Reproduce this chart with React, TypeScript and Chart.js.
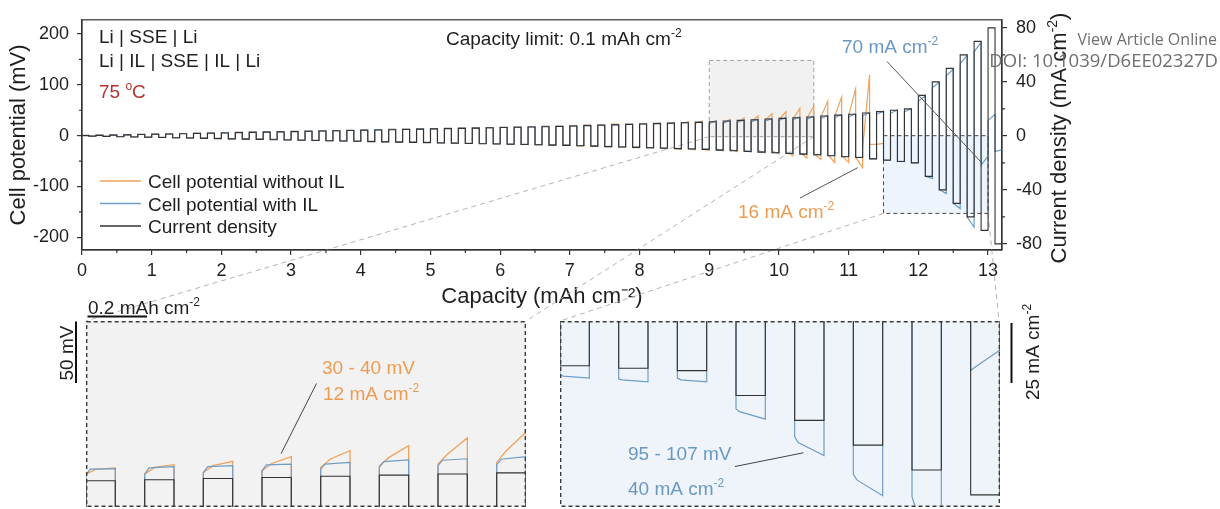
import React, { useEffect, useRef } from 'react';
import { Chart, registerables } from 'chart.js';

Chart.register(...registerables);

// ---------------- data ----------------
const halfCapacity = 0.1; // capacity limit per half cycle, mAh cm-2

const capacityTicks = [0, 1, 2, 3, 4, 5, 6, 7, 8, 9, 10, 11, 12, 13];
const capacityMinorTicks = [0.5, 1.5, 2.5, 3.5, 4.5, 5.5, 6.5, 7.5, 8.5, 9.5, 10.5, 11.5, 12.5];
const potentialTicks = [-200, -100, 0, 100, 200];
const potentialMinorTicks = [-150, -50, 50, 150];
const currentTicks = [-80, -40, 0, 40, 80];
const currentMinorTicks = [-60, -20, 20, 60];

const seriesLabels = ['Cell potential without IL', 'Cell potential with IL', 'Current density'];

// current density per cycle (mA cm-2)
const cycleCurrent = [
  0.2, 0.4, 0.6, 0.8, 1.0, 1.2, 1.4, 1.6, 1.8, 2.0,
  2.2, 2.4, 2.6, 2.8, 3.0, 3.2, 3.4, 3.6, 3.8, 4.0,
  4.2, 4.4, 4.6, 4.8, 5.0, 5.2, 5.4, 5.6, 5.8, 6.0,
  6.2, 6.4, 6.6, 6.8, 7.0, 7.3, 7.6, 7.9, 8.2, 8.5,
  8.8, 9.1, 9.4, 9.7, 10.0, 10.5, 11.0, 11.5, 12.0, 12.5,
  13.0, 13.5, 14.0, 14.7, 15.4, 16.0, 17.0, 18.0, 19.0, 20.0,
  30, 40, 50, 60, 70, 80,
];

// cell potential with IL (mV): value at end of plating / stripping half cycle
const blueUp = [
  0.5, 1.1, 1.6, 2.1, 2.7, 3.2, 3.7, 4.3, 4.8, 5.3,
  5.8, 6.4, 6.9, 7.4, 8.0, 8.5, 9.0, 9.6, 10.1, 10.6,
  11.2, 11.7, 12.2, 12.8, 13.3, 13.8, 14.3, 14.9, 15.4, 15.9,
  16.5, 17.0, 17.5, 18.1, 18.6, 19.4, 20.2, 21.0, 21.8, 22.6,
  23.4, 24.2, 25.0, 25.8, 26.6, 29.0, 30.5, 31.3, 32.6, 34.0,
  36.0, 36.9, 38.6, 40.0, 41.5, 43.0, 45.5, 48.0, 50.5, 53.0,
  78, 105, 131, 158, 184, 42,
];
const blueDown = [
  -0.5, -1.1, -1.6, -2.1, -2.7, -3.2, -3.7, -4.3, -4.8, -5.3,
  -5.8, -6.4, -6.9, -7.4, -8.0, -8.5, -9.0, -9.6, -10.1, -10.6,
  -11.2, -11.7, -12.2, -12.8, -13.3, -13.8, -14.3, -14.9, -15.4, -15.9,
  -16.5, -17.0, -17.5, -18.1, -18.6, -19.4, -20.2, -21.0, -21.8, -22.6,
  -23.4, -24.2, -25.0, -25.8, -26.6, -27.9, -29.2, -30.6, -31.9, -33.2,
  -34.5, -35.9, -37.2, -39.0, -41.0, -42.5, -45.2, -47.8, -50.5, -53.1,
  -84, -114, -144, -180, -40, -28,
];
// onset values (start of half cycle) where they differ from the end value
const blueUpOnsetFrom = 45;
const blueUpOnset = [24.0, 24.5, 25.8, 27.2, 28.5, 29.9, 31.3, 32.0, 34, 35.5, 37, 39, 42, 44, 47, 68, 94, 118, 142, 165, 30];
const blueDownOnsetFrom = 60;
const blueDownOnset = [-80, -106, -133, -160, -58, -31];

// cell potential without IL (mV)
const orangeUp = [
  0.5, 1.1, 1.6, 2.1, 2.7, 3.2, 3.7, 4.3, 4.8, 5.3,
  5.8, 6.4, 6.9, 7.4, 8.0, 8.5, 9.0, 9.6, 10.1, 10.6,
  11.2, 11.7, 12.2, 12.8, 13.3, 13.8, 14.3, 14.9, 15.4, 15.9,
  16.5, 17.0, 17.5, 18.1, 18.6, 19.8, 20.8, 21.8, 22.6, 23.4,
  24.0, 25.2, 26.3, 27.5, 28.7, 29.4, 32.1, 34.8, 38.6, 43.4,
  47.5, 53.7, 58.3, 68, 76, 92, 120, -15,
];
const orangeDown = [
  -0.5, -1.1, -1.6, -2.1, -2.7, -3.2, -3.7, -4.3, -4.8, -5.3,
  -5.8, -6.4, -6.9, -7.4, -8.0, -8.5, -9.0, -9.6, -10.1, -10.6,
  -11.2, -11.7, -12.2, -12.8, -13.3, -13.8, -14.3, -14.9, -15.4, -15.9,
  -16.5, -17.0, -17.5, -18.1, -18.6, -20.0, -21.0, -21.8, -22.8, -23.6,
  -24.5, -25.5, -26.8, -28.0, -29.0, -30.0, -31.5, -32.5, -34.0, -36.0,
  -40.0, -44.0, -47.0, -53, -53, -63, -17,
];
const orangeUpOnsetFrom = 40;
const orangeUpOnset = [22.5, 23.2, 23.8, 24.4, 24.8, 24.5, 24.5, 25.8, 27.2, 29.9, 31.3, 32.6, 34.0, 36, 38, 40, -25, -17];
const orangeDownOnsetFrom = 40;
const orangeDownOnset = [-23.5, -24.2, -25, -25.8, -26.6, -26, -27, -28, -29, -30, -31, -33, -35, -37, -39, -42, -17];

// zoom windows marked in the main plot
const zoomBox1 = { capacity: [9.0, 10.5], potential: [-2, 148] };
const zoomBox2 = { capacity: [11.5, 13.0], potential: [-153, 0] };

// inset 1: plating half cycles 45..52 (mV)
const inset1Cycles = [45, 46, 47, 48, 49, 50, 51, 52];
const inset1OrangeOnset = [24.5, 24.5, 25.8, 27.2, 29.9, 31.3, 32.6, 34.0];
const inset1OrangeKnee = [28.3, 29.9, 31.3, 33.1, 36.7, 38.0, 40.7, 43.4];
const inset1OrangeEnd = [29.4, 32.1, 34.8, 38.6, 43.4, 47.5, 53.7, 58.3];
const inset1BlueOnset = [24.0, 24.5, 25.8, 27.2, 28.5, 29.9, 31.3, 32.0];
const inset1BlueKnee = [28.5, 29.5, 30.5, 32.0, 32.6, 34.6, 35.7, 36.5];
const inset1BlueEnd = [29.0, 30.5, 31.3, 32.6, 34.0, 36.0, 36.9, 38.6];
const inset1CurrentRange = [-1.1, 81.3];

// inset 2: stripping half cycles 57..64 (mV)
const inset2Cycles = [57, 58, 59, 60, 61, 62, 63, 64];
const inset2BlueOnset = [-58, -62, -61, -94, -124, -164, -188, -53];
const inset2BlueKnee = [-59, -63, -63, -97, -130, -170, -200, -50];
const inset2BlueEnd = [-61, -65, -65, -105, -144, -187, -230, -31];
const inset2PotentialRange = [-199, 0];
const inset2CurrentRange = [-74.9, 0];

// ---------------- style / layout ----------------
const FONT = '"Liberation Sans", Arial, Helvetica, sans-serif';
const WM_FONT = '"Open Sans", "Liberation Sans", sans-serif';
const INK = '#1f1f1f';
const ORANGE = '#f2a25b';
const BLUE = '#6f9dc9';
const BLACK = '#333333';
const RED = '#b5332e';
const ORANGE_TXT = '#ee9c52';
const BLUE_TXT = '#6a98c4';

const insetFrames = [
  { left: 86, top: 321, width: 440, height: 186 },
  { left: 560, top: 321, width: 440, height: 186 },
];

// ---------------- helpers ----------------
type Seg = [string, boolean?];
function drawRich(ctx: any, segs: Seg[], x: number, y: number, size: number, color: string, align = 'left') {
  const supSize = Math.round(size * 0.62);
  const widths = segs.map(([t, sup]) => {
    ctx.font = `${sup ? supSize : size}px ${FONT}`;
    return ctx.measureText(t).width;
  });
  const total = widths.reduce((a, b) => a + b, 0);
  let cx = align === 'left' ? x : align === 'center' ? x - total / 2 : x - total;
  ctx.fillStyle = color;
  ctx.textAlign = 'left';
  ctx.textBaseline = 'alphabetic';
  segs.forEach(([t, sup], i) => {
    ctx.font = `${sup ? supSize : size}px ${FONT}`;
    ctx.fillText(t, cx, sup ? y - size * 0.42 : y);
    cx += widths[i];
  });
}
function drawRotated(ctx: any, segs: Seg[], cx: number, cy: number, size: number, color: string) {
  ctx.save();
  ctx.translate(cx, cy);
  ctx.rotate(-Math.PI / 2);
  drawRich(ctx, segs, 0, size * 0.358, size, color, 'center');
  ctx.restore();
}
function line(ctx: any, x1: number, y1: number, x2: number, y2: number) {
  ctx.beginPath();
  ctx.moveTo(x1, y1);
  ctx.lineTo(x2, y2);
  ctx.stroke();
}
const onsetOf = (arr: number[], from: number, k: number, fallback: number) =>
  k >= from && k - from < arr.length ? arr[k - from] : fallback;

function potentialTrace(up: number[], upOn: number[], upFrom: number, down: number[], downOn: number[], downFrom: number) {
  const pts: any[] = [{ x: 0, y: 0 }];
  for (let k = 0; k < up.length; k++) {
    const x0 = 2 * k * halfCapacity;
    const x1 = x0 + halfCapacity;
    const x2 = x1 + halfCapacity;
    pts.push({ x: x0, y: onsetOf(upOn, upFrom, k, up[k]) });
    pts.push({ x: x1, y: up[k] });
    if (k < down.length) {
      pts.push({ x: x1, y: onsetOf(downOn, downFrom, k, down[k]) });
      pts.push({ x: x2, y: down[k] });
    }
  }
  return pts;
}
function currentTrace() {
  const pts: any[] = [{ x: 0, y: 0 }];
  cycleCurrent.forEach((c, k) => {
    const x0 = 2 * k * halfCapacity;
    pts.push({ x: x0, y: c }, { x: x0 + halfCapacity, y: c }, { x: x0 + halfCapacity, y: -c }, { x: x0 + 2 * halfCapacity, y: -c });
  });
  return pts;
}

// ---------------- main chart plugin ----------------
const mainDecor = {
  id: 'mainDecor',
  beforeDatasetsDraw(chart: any) {
    const { ctx, scales } = chart;
    const { x, y } = scales;
    const box = (b: any) => ({
      l: x.getPixelForValue(b.capacity[0]),
      r: x.getPixelForValue(b.capacity[1]),
      t: y.getPixelForValue(b.potential[1]),
      b: y.getPixelForValue(b.potential[0]),
    });
    const b1 = box(zoomBox1);
    const b2 = box(zoomBox2);
    ctx.save();
    ctx.fillStyle = '#f1f1f1';
    ctx.fillRect(b1.l, b1.t, b1.r - b1.l, b1.b - b1.t);
    ctx.fillStyle = '#edf4fb';
    ctx.fillRect(b2.l, b2.t, b2.r - b2.l, b2.b - b2.t);
    ctx.lineWidth = 1;
    ctx.setLineDash([4, 3]);
    ctx.strokeStyle = '#a0a0a0';
    ctx.strokeRect(b1.l, b1.t, b1.r - b1.l, b1.b - b1.t);
    ctx.strokeStyle = '#4a4a4a';
    ctx.strokeRect(b2.l, b2.t, b2.r - b2.l, b2.b - b2.t);
    ctx.strokeStyle = '#b4b4b4';
    ctx.setLineDash([5, 4]);
    const [f1, f2] = insetFrames;
    line(ctx, b1.l, b1.b, f1.left, f1.top);
    line(ctx, b1.r, b1.b, f1.left + f1.width, f1.top);
    line(ctx, b2.l, b2.b, f2.left, f2.top);
    line(ctx, b2.r, b2.b, f2.left + f2.width - 1, f2.top);
    ctx.restore();
  },
  afterDatasetsDraw(chart: any) {
    const { ctx, chartArea: ca, scales } = chart;
    const { x, y, y1 } = scales;
    ctx.save();
    ctx.setLineDash([]);
    ctx.strokeStyle = BLACK;
    ctx.lineWidth = 1.2;
    ctx.strokeRect(ca.left, ca.top, ca.right - ca.left, ca.bottom - ca.top);
    ctx.beginPath();
    capacityMinorTicks.forEach((v) => {
      const px = x.getPixelForValue(v);
      ctx.moveTo(px, ca.bottom);
      ctx.lineTo(px, ca.bottom + 3);
    });
    potentialMinorTicks.forEach((v) => {
      const py = y.getPixelForValue(v);
      ctx.moveTo(ca.left - 3, py);
      ctx.lineTo(ca.left, py);
    });
    currentMinorTicks.forEach((v) => {
      const py = y1.getPixelForValue(v);
      ctx.moveTo(ca.right, py);
      ctx.lineTo(ca.right + 3, py);
    });
    ctx.stroke();

    // annotations
    drawRich(ctx, [['Li | SSE | Li']], 99, 43, 19, INK);
    drawRich(ctx, [['Li | IL | SSE | IL | Li']], 99, 66.5, 19, INK);
    drawRich(ctx, [['75 '], ['o', true], ['C']], 99, 98, 19, RED);
    drawRich(ctx, [['Capacity limit: 0.1 mAh cm'], ['-2', true]], 446, 45, 19, INK);
    drawRich(ctx, [['70 mA cm'], ['-2', true]], 842, 53, 19, BLUE_TXT);
    drawRich(ctx, [['16 mA cm'], ['-2', true]], 738, 218, 19, ORANGE_TXT);

    ctx.strokeStyle = '#555';
    ctx.lineWidth = 1;
    line(ctx, 887, 61.5, x.getPixelForValue(12.9), y.getPixelForValue(-52));
    line(ctx, 800, 198, x.getPixelForValue(11.13), y.getPixelForValue(-63));

    // legend
    const legendColors = [ORANGE, BLUE, BLACK];
    seriesLabels.forEach((lab, i) => {
      const base = 188 + i * 22.5;
      ctx.strokeStyle = legendColors[i];
      ctx.lineWidth = 1.6;
      line(ctx, 100, base - 7, 141, base - 7);
      drawRich(ctx, [[lab]], 148, base, 19, INK);
    });

    // right axis title (reads bottom to top)
    drawRotated(ctx, [['Current density (mA cm'], ['-2', true], [')']], 1058, 138, 22, INK);

    // scale bars
    ctx.strokeStyle = '#111';
    ctx.lineWidth = 2;
    line(ctx, 87.5, 316.5, 147, 316.5);
    drawRich(ctx, [['0.2 mAh cm'], ['-2', true]], 88, 314, 19, INK);
    line(ctx, 76, 321.5, 76, 383);
    drawRotated(ctx, [['50 mV']], 66, 353, 19, INK);
    line(ctx, 1011.5, 323, 1011.5, 383);
    drawRotated(ctx, [['25 mA cm'], ['-2', true]], 1032, 352, 19, INK);

    // watermark
    ctx.fillStyle = '#6f6f6f';
    ctx.textAlign = 'right';
    ctx.textBaseline = 'alphabetic';
    ctx.font = `16px ${WM_FONT}`;
    ctx.fillText('View Article Online', 1217, 45);
    ctx.font = `18.5px ${WM_FONT}`;
    ctx.fillText('DOI: 10.1039/D6EE02327D', 1218, 67);
    ctx.restore();
  },
};

function makeMain(canvas: HTMLCanvasElement) {
  const tickFont = { family: FONT, size: 18 };
  return new Chart(canvas, {
    type: 'line',
    data: {
      datasets: [
        { label: seriesLabels[2], data: currentTrace(), yAxisID: 'y1', borderColor: BLACK, borderWidth: 1.1 },
        {
          label: seriesLabels[1],
          data: potentialTrace(blueUp, blueUpOnset, blueUpOnsetFrom, blueDown, blueDownOnset, blueDownOnsetFrom),
          yAxisID: 'y',
          borderColor: BLUE,
          borderWidth: 1.2,
        },
        {
          label: seriesLabels[0],
          data: potentialTrace(orangeUp, orangeUpOnset, orangeUpOnsetFrom, orangeDown, orangeDownOnset, orangeDownOnsetFrom),
          yAxisID: 'y',
          borderColor: ORANGE,
          borderWidth: 1.2,
        },
      ],
    },
    options: {
      responsive: false,
      animation: false,
      devicePixelRatio: 1,
      events: [],
      layout: { padding: { left: 0, top: 16, right: 0, bottom: 199 } },
      plugins: { legend: { display: false }, tooltip: { enabled: false } },
      elements: { point: { radius: 0 }, line: { tension: 0, fill: false } },
      scales: {
        x: {
          type: 'linear',
          position: 'bottom',
          min: 0,
          max: 13.2,
          afterFit: (s: any) => { s.height = 60; },
          afterBuildTicks: (s: any) => { s.ticks = capacityTicks.map((v) => ({ value: v })); },
          ticks: { font: tickFont, color: INK, padding: 5, maxRotation: 0, autoSkip: false },
          grid: { drawOnChartArea: false, drawTicks: true, tickLength: 5, color: BLACK, lineWidth: 1.2 },
          border: { display: true, color: BLACK, width: 1.2 },
          title: { display: true, text: 'Capacity (mAh cm⁻²)', font: { family: FONT, size: 22 }, color: INK, padding: { top: 0, bottom: 0 } },
        },
        y: {
          type: 'linear',
          position: 'left',
          min: -225,
          max: 228,
          afterFit: (s: any) => { s.width = 82; },
          afterBuildTicks: (s: any) => { s.ticks = potentialTicks.map((v) => ({ value: v })); },
          ticks: { font: tickFont, color: INK, padding: 8 },
          grid: { drawOnChartArea: false, drawTicks: true, tickLength: 5, color: BLACK, lineWidth: 1.2 },
          border: { display: true, color: BLACK, width: 1.2 },
          title: { display: true, text: 'Cell potential (mV)', font: { family: FONT, size: 22 }, color: INK, padding: { top: 6, bottom: 0 } },
        },
        y1: {
          type: 'linear',
          position: 'right',
          min: -84.5,
          max: 86,
          afterFit: (s: any) => { s.width = 218; },
          afterBuildTicks: (s: any) => { s.ticks = currentTicks.map((v) => ({ value: v })); },
          ticks: { font: tickFont, color: INK, padding: 9 },
          grid: { drawOnChartArea: false, drawTicks: true, tickLength: 5, color: BLACK, lineWidth: 1.2 },
          border: { display: true, color: BLACK, width: 1.2 },
        },
      },
    } as any,
    plugins: [mainDecor],
  });
}

// ---------------- insets ----------------
function insetDecor(id: string, fill: string, notes: any[], pointer: any) {
  return {
    id,
    beforeDraw(chart: any) {
      const { ctx, width, height } = chart;
      ctx.save();
      ctx.fillStyle = fill;
      ctx.fillRect(0, 0, width, height);
      ctx.restore();
    },
    afterDraw(chart: any) {
      const { ctx, width, height, scales } = chart;
      ctx.save();
      ctx.setLineDash([4, 3]);
      ctx.strokeStyle = '#3d3d3d';
      ctx.lineWidth = 1.4;
      ctx.strokeRect(0.7, 0.7, width - 1.4, height - 1.4);
      ctx.setLineDash([]);
      notes.forEach((n) => drawRich(ctx, n.segs, n.x, n.y, 19, n.color));
      ctx.strokeStyle = '#444';
      ctx.lineWidth = 1;
      line(ctx, pointer.from[0], pointer.from[1], scales.x.getPixelForValue(pointer.tip[0]), scales.y.getPixelForValue(pointer.tip[1]));
      ctx.restore();
    },
  };
}

function makeInset1(canvas: HTMLCanvasElement) {
  const orange: any[] = [];
  const blue: any[] = [];
  const black: any[] = [];
  const k0 = inset1Cycles[0];
  orange.push({ x: 2 * k0 * halfCapacity, y: orangeDown[k0 - 1] });
  blue.push({ x: 2 * k0 * halfCapacity, y: blueDown[k0 - 1] });
  black.push({ x: 2 * k0 * halfCapacity, y: -cycleCurrent[k0 - 1] });
  inset1Cycles.forEach((k, i) => {
    const x0 = 2 * k * halfCapacity;
    const x1 = x0 + halfCapacity;
    const x2 = x1 + halfCapacity;
    orange.push(
      { x: x0, y: inset1OrangeOnset[i] },
      { x: x0 + 0.33 * halfCapacity, y: inset1OrangeKnee[i] },
      { x: x1, y: inset1OrangeEnd[i] },
      { x: x1, y: onsetOf(orangeDownOnset, orangeDownOnsetFrom, k, orangeDown[k]) },
      { x: x2, y: orangeDown[k] },
    );
    blue.push(
      { x: x0, y: inset1BlueOnset[i] },
      { x: x0 + 0.15 * halfCapacity, y: inset1BlueKnee[i] },
      { x: x1, y: inset1BlueEnd[i] },
      { x: x1, y: blueDown[k] },
      { x: x2, y: blueDown[k] },
    );
    black.push({ x: x0, y: cycleCurrent[k] }, { x: x1, y: cycleCurrent[k] }, { x: x1, y: -cycleCurrent[k] }, { x: x2, y: -cycleCurrent[k] });
  });
  const f = insetFrames[0];
  const notes = [
    { segs: [['30 - 40 mV']], x: 322 - f.left, y: 374 - f.top, color: ORANGE_TXT },
    { segs: [['12 mA cm'], ['-2', true]], x: 323 - f.left, y: 400 - f.top, color: ORANGE_TXT },
  ];
  return new Chart(canvas, {
    type: 'line',
    data: {
      datasets: [
        { data: black, yAxisID: 'yc', borderColor: BLACK, borderWidth: 1.1 },
        { data: blue, yAxisID: 'y', borderColor: BLUE, borderWidth: 1.2 },
        { data: orange, yAxisID: 'y', borderColor: ORANGE, borderWidth: 1.3 },
      ],
    },
    options: {
      responsive: false,
      animation: false,
      devicePixelRatio: 1,
      events: [],
      layout: { padding: 0 },
      plugins: { legend: { display: false }, tooltip: { enabled: false } },
      elements: { point: { radius: 0 }, line: { tension: 0, fill: false } },
      scales: {
        x: { type: 'linear', display: false, min: zoomBox1.capacity[0], max: zoomBox1.capacity[1] },
        y: { type: 'linear', display: false, min: zoomBox1.potential[0], max: zoomBox1.potential[1] },
        yc: { type: 'linear', display: false, min: inset1CurrentRange[0], max: inset1CurrentRange[1] },
      },
    } as any,
    plugins: [insetDecor('inset1', '#f2f2f2', notes, { from: [316.5 - f.left, 383.5 - f.top], tip: [9.665, 41] })],
  });
}

function makeInset2(canvas: HTMLCanvasElement) {
  const blue: any[] = [];
  const black: any[] = [];
  const kFirst = inset2Cycles[0];
  blue.push({ x: 2 * kFirst * halfCapacity + halfCapacity, y: blueUp[kFirst] });
  black.push({ x: 2 * kFirst * halfCapacity + halfCapacity, y: cycleCurrent[kFirst] });
  inset2Cycles.forEach((k, i) => {
    const x1 = 2 * k * halfCapacity + halfCapacity;
    const x2 = x1 + halfCapacity;
    const x3 = x2 + halfCapacity;
    const n = k + 1;
    blue.push(
      { x: x1, y: inset2BlueOnset[i] },
      { x: x1 + 0.12 * halfCapacity, y: inset2BlueKnee[i] },
      { x: x2, y: inset2BlueEnd[i] },
      { x: x2, y: onsetOf(blueUpOnset, blueUpOnsetFrom, n, blueUp[n]) },
      { x: x3, y: blueUp[n] },
    );
    black.push({ x: x1, y: -cycleCurrent[k] }, { x: x2, y: -cycleCurrent[k] }, { x: x2, y: cycleCurrent[n] }, { x: x3, y: cycleCurrent[n] });
  });
  const f = insetFrames[1];
  const notes = [
    { segs: [['95 - 107 mV']], x: 628 - f.left, y: 460 - f.top, color: BLUE_TXT },
    { segs: [['40 mA cm'], ['-2', true]], x: 628 - f.left, y: 495 - f.top, color: BLUE_TXT },
  ];
  return new Chart(canvas, {
    type: 'line',
    data: {
      datasets: [
        { data: black, yAxisID: 'yc', borderColor: BLACK, borderWidth: 1.1 },
        { data: blue, yAxisID: 'y', borderColor: BLUE, borderWidth: 1.2 },
      ],
    },
    options: {
      responsive: false,
      animation: false,
      devicePixelRatio: 1,
      events: [],
      layout: { padding: 0 },
      plugins: { legend: { display: false }, tooltip: { enabled: false } },
      elements: { point: { radius: 0 }, line: { tension: 0, fill: false } },
      scales: {
        x: { type: 'linear', display: false, min: zoomBox2.capacity[0], max: zoomBox2.capacity[1] },
        y: { type: 'linear', display: false, min: inset2PotentialRange[0], max: inset2PotentialRange[1] },
        yc: { type: 'linear', display: false, min: inset2CurrentRange[0], max: inset2CurrentRange[1] },
      },
    } as any,
    plugins: [insetDecor('inset2', '#eef4fa', notes, { from: [735 - f.left, 466.5 - f.top], tip: [12.33, -141] })],
  });
}

export default function App() {
  const mainRef = useRef<HTMLCanvasElement>(null);
  const in1Ref = useRef<HTMLCanvasElement>(null);
  const in2Ref = useRef<HTMLCanvasElement>(null);
  useEffect(() => {
    const charts = [makeMain(mainRef.current!), makeInset1(in1Ref.current!), makeInset2(in2Ref.current!)];
    return () => charts.forEach((c) => c.destroy());
  }, []);
  return (
    <div style={{ position: 'absolute', left: 0, top: 0, width: 1220, height: 509, background: '#fff', overflow: 'hidden' }}>
      <canvas ref={mainRef} width={1220} height={509} style={{ position: 'absolute', left: 0, top: 0 }} />
      {insetFrames.map((f, i) => (
        <canvas
          key={i}
          ref={i === 0 ? in1Ref : in2Ref}
          width={f.width}
          height={f.height}
          style={{ position: 'absolute', left: f.left, top: f.top }}
        />
      ))}
    </div>
  );
}
